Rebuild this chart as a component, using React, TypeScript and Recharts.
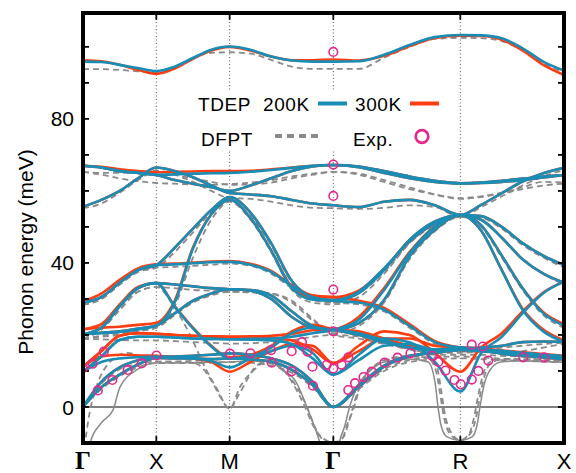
import React from 'react';
import { ComposedChart, Line, Scatter, XAxis, YAxis, ReferenceLine } from 'recharts';

// k-path Γ-X-M-Γ-R-X (path length in units of 2π/a)
const kTicks = [0, 0.5, 1.0, 1.707, 2.573, 3.28];
const kLabels = ['Γ', 'X', 'M', 'Γ', 'R', 'X'];
const kGrid = [
  0, 0.125, 0.25, 0.375, 0.5, 0.625, 0.75, 0.875, 1.0, 1.1414, 1.2828, 1.4243, 1.5657, 1.707,
  1.8802, 2.0534, 2.2266, 2.3998, 2.573, 2.7144, 2.8558, 2.9972, 3.1386, 3.28,
];
const yTicks = [0, 10, 20, 30, 40, 50, 60, 70, 80, 90, 100];
const yLabels = [0, 40, 80];

// TDEP 200K branches (meV) on kGrid
const t200TA = [0, 5.5, 9.0, 11.8, 13.6, 13.5, 13.5, 13.3, 13.5, 13.2, 12.6, 10.3, 6.1, 0, 5.6, 11.2, 14.0, 15.2, 16.1, 15.8, 14.8, 14.2, 13.8, 13.2];
const t200LA = [0, 7.0, 11.0, 13.0, 13.8, 14.0, 14.2, 14.5, 14.9, 14.5, 13.5, 11.5, 7.0, 0, 6.0, 11.5, 14.2, 15.0, 15.8, 15.5, 15.0, 14.5, 14.0, 13.5];
const t200S1 = [9.8, 12.5, 13.5, 13.8, 14.0, 13.8, 13.5, 12.8, 11.0, 13.5, 15.5, 17.0, 15.0, 9.0, 14.5, 19.0, 18.0, 12.5, 4.3, 14.9, 19.5, 26.0, 31.6, 34.8];
const t200S2 = [9.8, 14.0, 18.6, 19.5, 19.5, 19.3, 19.0, 18.9, 18.8, 18.9, 19.0, 19.5, 20.5, 21.4, 24.2, 32.5, 42.7, 50.1, 53.3, 49.0, 38.0, 27.0, 21.0, 18.1];
const t200S3 = [9.8, 14.0, 18.6, 19.5, 19.5, 19.3, 19.0, 18.9, 18.8, 18.7, 18.5, 17.5, 13.5, 9.0, 13.0, 17.0, 17.5, 16.0, 16.3, 16.0, 15.5, 15.0, 14.5, 14.0];
const t200A = [20.2, 20.5, 20.8, 21.5, 22.6, 29.0, 44.0, 53.5, 57.5, 52.5, 43.5, 33.0, 29.8, 29.5, 31.6, 38.0, 46.4, 51.5, 53.3, 50.5, 42.0, 33.0, 26.0, 22.6];
const t200A2 = [20.2, 20.6, 21.0, 21.8, 22.6, 26.0, 29.5, 31.5, 32.7, 32.3, 30.0, 25.0, 22.0, 21.4, 20.0, 18.0, 16.5, 15.8, 16.3, 16.5, 17.0, 18.0, 18.2, 18.1];
const t200B = [20.2, 22.0, 28.0, 33.0, 34.4, 27.9, 21.8, 16.8, 13.5, 14.0, 16.5, 20.5, 22.0, 21.4, 20.5, 18.5, 16.5, 15.5, 16.5, 16.0, 15.5, 15.0, 14.5, 14.0];
const t200B2 = [20.2, 22.0, 28.0, 33.0, 34.4, 34.0, 33.5, 33.0, 32.7, 32.5, 31.0, 26.5, 22.5, 21.4, 23.3, 29.7, 41.8, 49.2, 53.3, 52.0, 47.0, 41.0, 37.0, 34.5];
const t200C = [29.0, 30.5, 34.5, 38.0, 39.4, 39.6, 39.9, 40.2, 40.3, 39.5, 37.5, 33.5, 30.5, 29.5, 29.0, 27.0, 22.5, 18.0, 16.5, 16.0, 15.5, 15.0, 14.5, 14.0];
const t200C2 = [29.0, 30.5, 34.5, 38.0, 39.4, 44.2, 49.5, 54.7, 58.3, 54.0, 45.5, 35.0, 30.5, 29.7, 32.0, 38.5, 46.0, 51.0, 53.3, 53.0, 50.0, 45.5, 42.0, 39.4];
const t200D = [55.6, 57.5, 60.0, 63.5, 66.5, 65.5, 63.8, 61.5, 59.4, 59.0, 58.5, 57.5, 56.5, 56.0, 55.5, 57.0, 57.5, 56.0, 53.3, 56.1, 59.4, 62.6, 64.9, 66.4];
const t200E = [67.0, 66.5, 65.5, 65.0, 64.5, 64.6, 64.8, 64.9, 65.0, 65.3, 65.8, 66.4, 67.0, 67.2, 66.6, 65.0, 63.5, 62.5, 62.1, 62.3, 62.8, 63.4, 64.0, 64.4];
const t200E2 = [67.0, 66.5, 65.5, 65.0, 64.4, 63.0, 62.0, 61.0, 60.0, 61.5, 63.5, 65.5, 66.8, 67.2, 66.8, 65.5, 64.0, 62.8, 62.1, 62.2, 62.5, 63.0, 63.7, 64.4];
const t200Top = [95.9, 95.8, 95.0, 94.1, 93.3, 94.5, 96.9, 99.2, 100.1, 99.2, 97.3, 96.2, 95.9, 95.9, 96.0, 97.8, 100.5, 102.7, 103.3, 103.2, 102.4, 99.6, 95.9, 93.4];

// TDEP 300K branches that differ visibly from 200K
const t300S1 = [11.2, 14.0, 14.5, 14.3, 14.2, 14.0, 13.5, 12.5, 9.8, 12.5, 15.5, 17.5, 17.0, 12.2, 17.0, 21.0, 20.0, 15.0, 9.8, 16.5, 20.5, 26.5, 31.8, 34.8];
const t300S2 = [11.2, 15.5, 19.8, 20.5, 20.3, 20.0, 19.8, 19.6, 19.5, 19.6, 19.8, 20.3, 21.3, 21.6, 25.0, 33.0, 43.0, 50.2, 53.3, 49.0, 38.0, 27.3, 21.5, 18.5];
const t300S3 = [11.2, 15.5, 19.8, 20.5, 20.3, 20.0, 19.8, 19.6, 19.5, 19.4, 19.2, 18.5, 16.0, 12.2, 15.5, 19.0, 19.0, 17.0, 16.5, 16.2, 15.7, 15.2, 14.7, 14.2];
const t300A = [21.6, 22.0, 22.3, 22.8, 23.4, 29.5, 44.3, 53.5, 57.5, 52.5, 43.5, 33.3, 30.5, 30.5, 32.3, 38.3, 46.4, 51.5, 53.3, 50.5, 42.0, 33.0, 26.3, 23.0];
const t300B = [21.6, 23.0, 28.5, 33.3, 34.4, 28.0, 22.0, 17.0, 13.8, 14.5, 17.0, 21.0, 22.8, 21.6, 21.0, 19.0, 17.0, 15.8, 16.5, 16.0, 15.5, 15.0, 14.5, 14.0];
const t300C = [29.4, 31.5, 35.3, 38.5, 39.6, 39.8, 40.1, 40.4, 40.5, 39.8, 37.8, 33.8, 31.0, 30.5, 29.5, 27.5, 23.0, 18.3, 16.5, 16.0, 15.5, 15.0, 14.5, 14.0];
const t300E = [67.0, 66.7, 66.0, 65.5, 65.2, 65.3, 65.4, 65.5, 65.5, 65.6, 66.0, 66.5, 67.0, 67.2, 66.6, 65.0, 63.5, 62.5, 62.1, 62.3, 62.8, 63.4, 64.0, 64.4];
const t300Top = [96.3, 96.0, 95.0, 93.6, 92.5, 94.0, 96.7, 99.0, 100.0, 99.0, 97.3, 96.3, 96.3, 96.5, 96.2, 97.5, 100.2, 102.5, 103.1, 103.0, 102.0, 99.0, 95.0, 92.2];

// DFPT branches on kGrid
const dTA = [0, 5.0, 8.5, 11.0, 12.2, 12.2, 12.2, 12.3, 12.5, 12.3, 11.5, 9.5, 5.5, 0, 5.0, 10.0, 12.5, 13.2, 13.5, 13.3, 13.0, 12.8, 12.6, 12.4];
const dLA = [0, 6.5, 10.5, 12.0, 12.6, 12.6, 12.8, 13.0, 13.3, 13.2, 12.5, 10.5, 6.3, 0, 5.5, 10.5, 13.0, 13.8, 14.0, 13.8, 13.4, 13.0, 12.8, 12.6];
const dS2 = [18.9, 18.8, 18.6, 18.5, 18.5, 18.3, 18.0, 17.8, 17.6, 17.7, 18.0, 18.5, 19.5, 20.0, 19.5, 18.0, 16.0, 14.5, 14.5, 14.5, 14.2, 14.0, 13.5, 13.2];
const dA = [18.9, 19.5, 20.0, 21.0, 22.0, 28.0, 41.5, 52.0, 57.0, 52.0, 43.0, 32.5, 29.0, 28.5, 30.5, 37.0, 45.5, 51.0, 52.8, 50.0, 41.5, 32.5, 25.5, 22.0];
const dA2 = [18.9, 19.8, 20.3, 21.2, 22.0, 25.5, 29.0, 31.0, 32.0, 31.8, 31.5, 29.5, 24.5, 20.0, 19.0, 17.5, 16.0, 15.0, 15.0, 15.5, 16.5, 17.0, 17.5, 17.8];
const dB2 = [18.9, 21.5, 27.0, 32.0, 33.3, 33.0, 32.5, 32.3, 32.0, 32.0, 31.5, 29.0, 24.0, 20.5, 22.5, 29.0, 41.0, 48.8, 52.8, 52.0, 47.0, 41.0, 37.0, 34.0];
const dC = [28.3, 30.0, 34.0, 37.5, 38.7, 38.9, 39.2, 39.5, 39.8, 39.2, 37.0, 33.0, 30.0, 29.0, 28.5, 26.5, 22.0, 17.5, 15.5, 15.3, 15.0, 15.5, 16.5, 17.6];
const dC2 = [28.3, 30.0, 34.0, 37.5, 38.7, 43.0, 48.5, 54.0, 57.5, 53.0, 45.0, 34.5, 29.8, 29.0, 31.5, 37.5, 45.5, 50.5, 52.8, 52.5, 49.5, 45.0, 41.5, 38.8];
const dD = [55.2, 56.5, 59.5, 63.0, 65.6, 64.5, 62.5, 60.0, 58.0, 57.8, 57.0, 56.0, 55.3, 55.2, 55.0, 55.3, 56.0, 55.5, 52.8, 55.5, 58.5, 61.5, 64.0, 65.8];
const dE = [65.3, 64.5, 63.5, 62.7, 62.2, 62.0, 61.8, 61.7, 61.9, 62.3, 63.0, 64.0, 64.8, 65.3, 64.8, 63.0, 61.0, 59.0, 57.8, 58.3, 59.3, 60.5, 61.5, 62.0];
const dE2 = [65.3, 65.0, 65.0, 65.2, 65.6, 64.5, 63.5, 62.5, 61.7, 61.8, 62.3, 63.5, 64.5, 65.3, 64.5, 62.5, 60.5, 59.0, 58.0, 58.5, 59.5, 61.0, 62.5, 62.3];
const dTop = [93.8, 93.8, 93.6, 93.2, 92.8, 94.3, 97.0, 98.3, 98.5, 98.1, 96.4, 94.5, 93.9, 93.9, 93.9, 97.0, 100.0, 102.2, 102.5, 102.4, 101.6, 99.0, 95.4, 93.0];

// DFPT unstable branches, sampled more densely where they dive below zero
const dSoftAK = [0, 0.048, 0.123, 0.205, 0.252, 0.375, 0.5, 0.627, 0.75, 0.873, 1.0, 1.139, 1.282, 1.35, 1.452, 1.527, 1.616, 1.707, 1.739, 1.787, 1.821, 1.875, 1.971, 2.053, 2.223, 2.353, 2.4, 2.421, 2.441, 2.482, 2.573, 2.653, 2.687, 2.707, 2.734, 2.789, 2.85, 2.993, 3.13, 3.28];
const dSoftAE = [-25, -10, -4.5, -0.8, 5.5, 10.5, 12.2, 12.2, 12.3, 12.4, 12.5, 12.8, 12.6, 10.5, 7, 0, -10, -25, -12, -5, 0.5, 6, 10.5, 12.5, 13.3, 12.5, 7, 0, -5, -8.3, -9.3, -8.3, -5, 0, 6, 11, 12.5, 12.8, 12.6, 12.4];
const dSoftBK = [0, 0.048, 0.095, 0.184, 0.3, 0.402, 0.5, 0.627, 0.75, 0.811, 0.88, 0.934, 1.0, 1.057, 1.105, 1.159, 1.241, 1.323, 1.391, 1.466, 1.514, 1.568, 1.63, 1.707, 1.773, 1.814, 1.848, 1.902, 1.991, 2.093, 2.23, 2.353, 2.407, 2.434, 2.462, 2.503, 2.573, 2.639, 2.68, 2.707, 2.741, 2.789, 2.878, 2.993, 3.13, 3.28];
const dSoftBE = [-14, -1, 6, 12.5, 15, 14, 12.6, 12.6, 12.3, 11, 7, 3, -0.5, 3, 6.5, 10.3, 12.5, 12, 9, 4, 0, -5, -8.5, -9.8, -8.5, -4, 1, 7, 11.5, 13.5, 14.2, 13.5, 10, 4, -3, -7.5, -9.3, -7.5, -3, 3, 9, 12.5, 13.2, 13.3, 13.2, 12.8];
const dSoftCK = [0, 0.123, 0.252, 0.375, 0.5, 0.627, 0.73, 0.832, 0.914, 1.0, 1.071, 1.159, 1.241, 1.343, 1.425, 1.48, 1.527, 1.575, 1.63, 1.707, 1.766, 1.8, 1.841, 1.889, 1.964, 2.066, 2.23, 2.353, 2.414, 2.441, 2.468, 2.509, 2.573, 2.633, 2.666, 2.694, 2.728, 2.775, 2.878, 3.048, 3.28];
const dSoftCE = [18.9, 21.5, 27, 32, 33.3, 27.5, 20, 11, 5, -0.5, 5.6, 10, 12.3, 11, 7.5, 4, 0, -5, -8.8, -10, -9, -5, -1, 5.5, 10.5, 13, 14, 13.8, 11, 5, -2, -7, -9.2, -7.5, -3, 3, 9, 12.5, 13.3, 13.2, 13];

// experimental points
const expK = [0, 0.065, 0.142, 0.101, 0.2, 0.305, 0.4, 0.501, 1.002, 1.142, 1.283, 1.423, 1.493, 1.531, 1.287, 1.423, 1.565, 1.568, 1.662, 1.707, 1.707, 1.707, 1.707, 1.707, 1.707, 1.764, 1.809, 1.809, 1.855, 1.913, 1.969, 2.056, 2.145, 2.233, 2.381, 2.423, 2.472, 2.533, 2.576, 2.651, 2.696, 2.764, 2.651, 2.726, 3.002, 3.145];
const expE = [10.8, 12.0, 15.4, 4.6, 7.5, 10.3, 12.1, 14.3, 14.8, 14.9, 15.8, 15.5, 18.0, 15.4, 12.3, 9.9, 11.2, 5.9, 11.7, 10.7, 21.0, 32.6, 58.6, 67.3, 98.6, 11.7, 13.8, 4.7, 6.6, 8.3, 9.8, 12.3, 13.7, 14.9, 14.2, 12.5, 10.1, 7.5, 6.3, 7.6, 10.0, 12.9, 17.3, 16.8, 13.8, 13.8];

const tdep200 = [t200TA, t200LA, t200S1, t200S2, t200S3, t200A, t200A2, t200B, t200B2, t200C, t200C2, t200D, t200E, t200E2, t200Top];
const tdep300 = [t200TA, t200LA, t300S1, t300S2, t300S3, t300A, t200A2, t300B, t200B2, t300C, t200C2, t200D, t300E, t200E2, t300Top];
const dfptGrid = [dTA, dLA, dS2, dA, dA2, dB2, dC, dC2, dD, dE, dE2, dTop];

const BLUE = '#1a8db5';
const RED = '#ff3d12';
const GRAY = '#8a8a8a';
const PINK = '#e6288c';
const SANS = '"Liberation Sans", Arial, Helvetica, sans-serif';

const K_MIN = 0;
const K_MAX = 3.28;
const E_MIN = -10;
const E_MAX = 109.4;
// inward tick lengths in axis units (about 7 px and 6 px)
const TICK_DE = 1.9;
const TICK_DK = 0.041;

// plot frame inside the 576x473 chart
const PLOT_LEFT = 83;
const PLOT_TOP = 13;
const PLOT_RIGHT = 564;
const PLOT_BOTTOM = 443;

const rows = (ks: number[], es: number[]) => ks.map((k, i) => ({ k, e: es[i] }));
const expRows = rows(expK, expE);

const labelFor = (v: number) => {
  const i = kTicks.findIndex((t) => Math.abs(t - v) < 1e-6);
  return i >= 0 ? kLabels[i] : '';
};
const inner = (v: number) => v > K_MIN + 1e-6 && v < K_MAX - 1e-6;

const BottomTick = (props: any) => {
  const { x, payload } = props;
  const lab = labelFor(payload.value);
  const gamma = lab === 'Γ';
  return (
    <text
      x={x}
      y={PLOT_BOTTOM + 26}
      textAnchor="middle"
      fill="#000"
      stroke="none"
      fontFamily={gamma ? '"Liberation Serif", "DejaVu Serif", serif' : SANS}
      fontWeight={gamma ? 700 : 400}
      fontSize={gamma ? 25 : 22}
    >
      {lab}
    </text>
  );
};

const LeftTick = (props: any) => {
  const { y, payload } = props;
  if (!yLabels.includes(payload.value)) return <g />;
  return (
    <text x={PLOT_LEFT - 9} y={y} dy="0.36em" textAnchor="end" fontFamily={SANS} fontSize={21} fill="#000" stroke="none">
      {payload.value}
    </text>
  );
};

const ExpDot = (props: any) => {
  const { cx, cy } = props;
  return <circle cx={cx} cy={cy} r={4.3} fill="none" stroke={PINK} strokeWidth={1.6} />;
};

const ax = { xAxisId: 'b', yAxisId: 'l' };

export default function App() {
  return (
    <div style={{ position: 'relative', width: 576, height: 473, background: '#fff' }}>
      <style>{'body{margin:0;overflow:hidden;background:#fff}'}</style>
      <ComposedChart width={576} height={473} margin={{ top: PLOT_TOP, right: 576 - PLOT_RIGHT, bottom: 0, left: 0 }}>
        <XAxis
          xAxisId="b"
          dataKey="k"
          type="number"
          domain={[K_MIN, K_MAX]}
          allowDataOverflow
          ticks={kTicks}
          interval={0}
          height={473 - PLOT_BOTTOM}
          tickLine={false}
          axisLine={false}
          tick={<BottomTick />}
        />
        <YAxis
          yAxisId="l"
          type="number"
          domain={[E_MIN, E_MAX]}
          allowDataOverflow
          ticks={yTicks}
          interval={0}
          width={PLOT_LEFT}
          tickLine={false}
          axisLine={false}
          tick={<LeftTick />}
        />
        {kTicks.filter(inner).map((k) => (
          <ReferenceLine key={'v' + k} {...ax} x={k} stroke="#555" strokeWidth={1} strokeDasharray="1 2.5" />
        ))}
        <ReferenceLine {...ax} y={0} stroke="#000" strokeWidth={1.2} />

        {dfptGrid.map((es, i) => (
          <Line key={'dg' + i} {...ax} data={rows(kGrid, es)} dataKey="e" type="monotone"
            stroke={GRAY} strokeWidth={1.8} strokeDasharray="6 4" dot={false} activeDot={false} isAnimationActive={false} />
        ))}
        <Line {...ax} data={rows(dSoftAK, dSoftAE)} dataKey="e" type="monotone"
          stroke={GRAY} strokeWidth={1.5} dot={false} activeDot={false} isAnimationActive={false} />
        <Line {...ax} data={rows(dSoftBK, dSoftBE)} dataKey="e" type="monotone"
          stroke={GRAY} strokeWidth={1.8} strokeDasharray="6 4" dot={false} activeDot={false} isAnimationActive={false} />
        <Line {...ax} data={rows(dSoftCK, dSoftCE)} dataKey="e" type="monotone"
          stroke={GRAY} strokeWidth={1.8} strokeDasharray="6 4" dot={false} activeDot={false} isAnimationActive={false} />

        {tdep300.map((es, i) => (
          <Line key={'r' + i} {...ax} data={rows(kGrid, es)} dataKey="e" type="monotone"
            stroke={RED} strokeWidth={2.6} dot={false} activeDot={false} isAnimationActive={false} />
        ))}
        {tdep200.map((es, i) => (
          <Line key={'b' + i} {...ax} data={rows(kGrid, es)} dataKey="e" type="monotone"
            stroke={BLUE} strokeWidth={2.6} dot={false} activeDot={false} isAnimationActive={false} />
        ))}
        <Scatter {...ax} data={expRows} dataKey="e" shape={<ExpDot />} isAnimationActive={false} />

        {/* inward ticks on all four sides */}
        {kTicks.filter(inner).map((k) => (
          <ReferenceLine key={'tb' + k} {...ax} stroke="#000" strokeWidth={1.8}
            segment={[{ x: k, y: E_MIN }, { x: k, y: E_MIN + TICK_DE }]} />
        ))}
        {kTicks.filter(inner).map((k) => (
          <ReferenceLine key={'tt' + k} {...ax} stroke="#000" strokeWidth={1.8}
            segment={[{ x: k, y: E_MAX - TICK_DE }, { x: k, y: E_MAX }]} />
        ))}
        {yTicks.map((v) => (
          <ReferenceLine key={'tl' + v} {...ax} stroke="#000" strokeWidth={1.8}
            segment={[{ x: K_MIN, y: v }, { x: K_MIN + TICK_DK, y: v }]} />
        ))}
        {yTicks.map((v) => (
          <ReferenceLine key={'tr' + v} {...ax} stroke="#000" strokeWidth={1.8}
            segment={[{ x: K_MAX - TICK_DK, y: v }, { x: K_MAX, y: v }]} />
        ))}
      </ComposedChart>

      <svg width={576} height={473} style={{ position: 'absolute', left: 0, top: 0, pointerEvents: 'none' }}>
        <rect x={PLOT_LEFT} y={PLOT_TOP} width={PLOT_RIGHT - PLOT_LEFT} height={PLOT_BOTTOM - PLOT_TOP}
          fill="none" stroke="#000" strokeWidth={4} />
        <text transform="translate(25,252) rotate(-90)" textAnchor="middle" dominantBaseline="central"
          fontFamily={SANS} fontSize={21} fill="#000">
          Phonon energy (meV)
        </text>
        <rect x={194} y={90} width={252} height={60} fill="#fff" />
        <g fontFamily={SANS} fontSize={19} fill="#000" letterSpacing={0.6}>
          <text x={198} y={111}>TDEP</text>
          <text x={263} y={111}>200K</text>
          <text x={355} y={111}>300K</text>
          <text x={201} y={146}>DFPT</text>
          <text x={353} y={146}>Exp.</text>
        </g>
        <line x1={318} x2={347} y1={103.5} y2={103.5} stroke={BLUE} strokeWidth={4} />
        <line x1={410} x2={439} y1={103.5} y2={103.5} stroke={RED} strokeWidth={4} />
        <line x1={275} x2={318} y1={136} y2={136} stroke={GRAY} strokeWidth={4} strokeDasharray="7 5" />
        <circle cx={422} cy={136.5} r={6.3} fill="none" stroke={PINK} strokeWidth={2.7} />
      </svg>
    </div>
  );
}
